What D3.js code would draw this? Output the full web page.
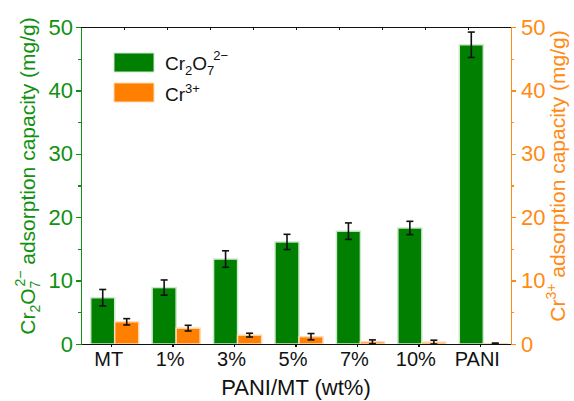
<!DOCTYPE html>
<html>
<head>
<meta charset="utf-8">
<script src="https://cdn.jsdelivr.net/npm/d3@7"></script>
<style>
  body { margin: 0; background: #fff; }
  svg { font-family: "Liberation Sans", Arial, sans-serif; display: block; }
  .axis path, .axis line { shape-rendering: crispEdges; }
</style>
</head>
<body>
<div id="chart"></div>
<script>
const categories = ["MT", "1%", "3%", "5%", "7%", "10%", "PANI"];
const dichromate = [7.3, 8.9, 13.4, 16.1, 17.8, 18.3, 47.2];
const dichromateErr = [1.3, 1.2, 1.3, 1.2, 1.3, 1.05, 2.0];
const chromium = [3.5, 2.5, 1.4, 1.15, 0.35, 0.3, 0.05];
const chromiumErr = [0.5, 0.45, 0.3, 0.5, 0.3, 0.3, 0.1];
const yTicks = [0, 10, 20, 30, 40, 50];

const GREEN = "#007f00", ORANGE = "#ff7f00";
const AX_GREEN = "#119111", AX_ORANGE = "#ff8a14";
const FONT = "Liberation Sans, Arial, sans-serif";

const width = 574, height = 401;
const m = { top: 27, right: 63, bottom: 57, left: 81 };

const svg = d3.select("#chart").append("svg")
  .attr("width", width).attr("height", height);

const x = d3.scaleBand(categories, [m.left, width - m.right]).padding(0);
const y = d3.scaleLinear([0, 50], [height - m.bottom, m.top]);
const yR = d3.scaleLinear([0, 50], [height - m.bottom, m.top]);
const barW = 24;

// bars
const groups = svg.append("g");
categories.forEach((c, i) => {
  const cx = x(c) + x.bandwidth() / 2 + 3;
  groups.append("rect")
    .attr("x", cx - barW).attr("width", barW)
    .attr("y", y(dichromate[i])).attr("height", y(0) - y(dichromate[i]))
    .attr("fill", GREEN).attr("stroke", "#cde8cd").attr("stroke-width", 1.5);
  groups.append("rect")
    .attr("x", cx).attr("width", barW)
    .attr("y", yR(chromium[i])).attr("height", yR(0) - yR(chromium[i]))
    .attr("fill", ORANGE).attr("stroke", "#ffd9b5").attr("stroke-width", 1.5);
});

// error bars
function errBar(cx, v, e, scale) {
  const g = svg.append("g").attr("stroke", "#111").attr("stroke-width", 1.6);
  const lo = scale(Math.max(0, v - e)), hi = scale(v + e);
  g.append("line").attr("x1", cx).attr("x2", cx).attr("y1", hi).attr("y2", lo);
  g.append("line").attr("x1", cx - 3.5).attr("x2", cx + 3.5).attr("y1", hi).attr("y2", hi);
  g.append("line").attr("x1", cx - 3.5).attr("x2", cx + 3.5).attr("y1", lo).attr("y2", lo);
}
categories.forEach((c, i) => {
  const cx = x(c) + x.bandwidth() / 2 + 3;
  errBar(cx - barW / 2, dichromate[i], dichromateErr[i], y);
  errBar(cx + barW / 2, chromium[i], chromiumErr[i], yR);
});

// top axis (frame)
const xTop = d3.scaleLinear([0, 10], [m.left, width - m.right]);
svg.append("g").attr("class", "axis")
  .attr("transform", `translate(0,${m.top})`)
  .call(d3.axisTop(xTop).tickValues(d3.range(1, 10)).tickSize(-3).tickFormat(""))
  .call(g => g.selectAll("path, line").attr("stroke", "#111").attr("stroke-width", 1.3));

// bottom axis
svg.append("g").attr("class", "axis")
  .attr("transform", `translate(0,${height - m.bottom})`)
  .call(d3.axisBottom(x).tickSize(3).tickSizeOuter(0).tickPadding(5))
  .call(g => g.selectAll("path, line").attr("stroke", "#111").attr("stroke-width", 1.3))
  .call(g => g.selectAll("text").attr("font-size", 20).attr("fill", "#111")
    .attr("font-family", FONT).attr("dx", -3));

// left axis
const leftAx = svg.append("g").attr("class", "axis")
  .attr("transform", `translate(${m.left},0)`)
  .call(d3.axisLeft(y).tickValues(yTicks).tickSize(5).tickSizeOuter(0).tickPadding(3));
leftAx.append("g").call(d3.axisLeft(y).tickValues([5, 15, 25, 35, 45]).tickSize(3).tickFormat(""))
  .call(g => g.select("path").remove());
leftAx.selectAll("path, line").attr("stroke", AX_GREEN).attr("stroke-width", 1.4);
leftAx.selectAll("text").attr("font-size", 22).attr("fill", AX_GREEN)
  .attr("font-family", FONT);

// right axis
const rightAx = svg.append("g").attr("class", "axis")
  .attr("transform", `translate(${width - m.right},0)`)
  .call(d3.axisRight(yR).tickValues(yTicks).tickSize(5).tickSizeOuter(0).tickPadding(5));
rightAx.append("g").call(d3.axisRight(yR).tickValues([5, 15, 25, 35, 45]).tickSize(3).tickFormat(""))
  .call(g => g.select("path").remove());
rightAx.selectAll("path, line").attr("stroke", AX_ORANGE).attr("stroke-width", 1.4);
rightAx.selectAll("text").attr("font-size", 22).attr("fill", AX_ORANGE)
  .attr("font-family", FONT);

// x title
svg.append("text").attr("x", (m.left + width - m.right) / 2).attr("y", 395)
  .attr("text-anchor", "middle").attr("font-size", 22).attr("fill", "#111")
  .text("PANI/MT (wt%)");

// left title
const lt = svg.append("text")
  .attr("transform", `translate(35,176) rotate(-90)`)
  .attr("text-anchor", "middle").attr("font-size", 21).attr("fill", AX_GREEN);
lt.append("tspan").text("Cr");
lt.append("tspan").attr("font-size", 14).attr("dy", 5).text("2");
lt.append("tspan").attr("dy", -5).text("O");
lt.append("tspan").attr("font-size", 14).attr("dy", 5).text("7");
lt.append("tspan").attr("font-size", 14).attr("dy", -15).attr("dx", -6).text("2\u2212");
lt.append("tspan").attr("dy", 10).text(" adsorption capacity (mg/g)");

// right title
const rt = svg.append("text")
  .attr("transform", `translate(565,176) rotate(-90)`)
  .attr("text-anchor", "middle").attr("font-size", 21).attr("fill", AX_ORANGE);
rt.append("tspan").text("Cr");
rt.append("tspan").attr("font-size", 14).attr("dy", -9).text("3+");
rt.append("tspan").attr("dy", 9).text(" adsorption capacity (mg/g)");

// legend
const legend = svg.append("g").attr("transform", "translate(114,53)");
legend.append("rect").attr("width", 40).attr("height", 19)
  .attr("fill", GREEN).attr("stroke", "#cde8cd").attr("stroke-width", 1);
legend.append("rect").attr("y", 30).attr("width", 40).attr("height", 19)
  .attr("fill", ORANGE).attr("stroke", "#ffd9b5").attr("stroke-width", 1);
const l1 = legend.append("text").attr("x", 51).attr("y", 17).attr("font-size", 19).attr("fill", "#111");
l1.append("tspan").text("Cr");
l1.append("tspan").attr("font-size", 13).attr("dy", 5).text("2");
l1.append("tspan").attr("dy", -5).text("O");
l1.append("tspan").attr("font-size", 13).attr("dy", 5).text("7");
l1.append("tspan").attr("font-size", 13).attr("dy", -15).attr("dx", -1).text("2\u2212");
const l2 = legend.append("text").attr("x", 51).attr("y", 48).attr("font-size", 19).attr("fill", "#111");
l2.append("tspan").text("Cr");
l2.append("tspan").attr("font-size", 13).attr("dy", -8).text("3+");
</script>
</body>
</html>
